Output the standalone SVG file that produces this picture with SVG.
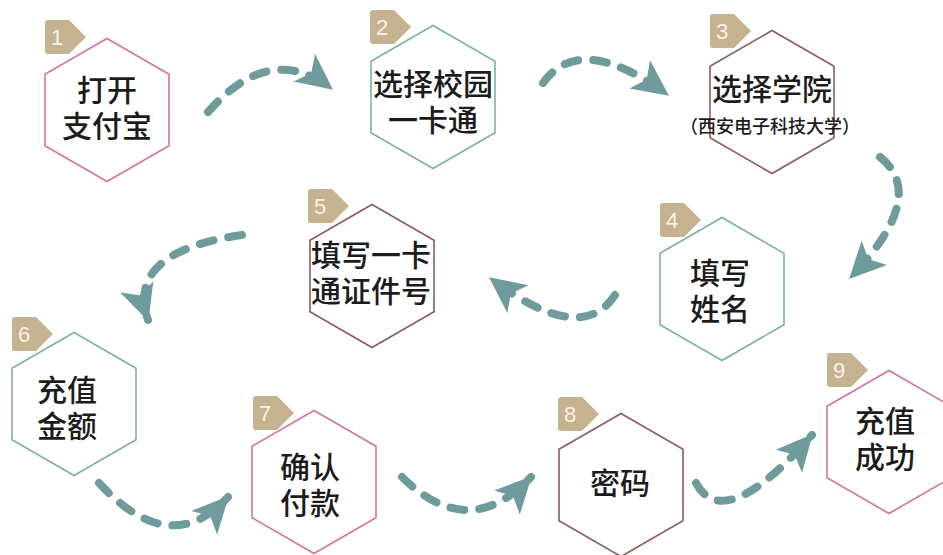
<svg xmlns="http://www.w3.org/2000/svg" xmlns:xlink="http://www.w3.org/1999/xlink" width="943" height="555" viewBox="0 0 943 555">
<style>
.hex{fill:#fff;stroke-width:1.6}
.pink{stroke:#d4739f}
.green{stroke:#7ab59c}
.brown{stroke:#8c5c5e}
.badge{fill:#c5b38f}
.num{fill:#f8f2e6;font-family:"Liberation Sans",sans-serif;font-size:22px;text-anchor:middle}
.lbl{font-family:"Liberation Sans","Noto Sans CJK SC",sans-serif;font-size:30px;font-weight:500;fill:#1c1c1c;text-anchor:middle}
.sub{font-family:"Liberation Sans","Noto Sans CJK SC",sans-serif;font-size:18px;font-weight:500;fill:#1c1c1c;text-anchor:middle}
.conn{fill:none;stroke:#6f9b9d;stroke-width:8;stroke-linecap:round;stroke-dasharray:14 15}
</style>
<defs>
<polygon id="hx" points="0,-71.5 62,-35.75 62,35.75 0,71.5 -62,35.75 -62,-35.75"/>
<path id="bd" d="M3,0 H24 L41,17 L24,34 H3 Q0,34 0,31 V3 Q0,0 3,0 Z"/>
<marker id="ah" viewBox="0 0 32 32" markerUnits="userSpaceOnUse" markerWidth="40" markerHeight="40" refX="30" refY="16" orient="auto">
<path d="M2,2 L31,16 L2,30 L9,16 Z" fill="#6f9b9d"/>
</marker>
</defs>
<rect width="943" height="555" fill="#fff"/>
<g id="connectors">
<path class="conn" marker-end="url(#ah)" d="M208,112 Q270,41 332,89"/>
<path class="conn" marker-end="url(#ah)" d="M543,83 Q580,31 668,95"/>
<path class="conn" marker-end="url(#ah)" d="M880,157 Q929,196 850,278"/>
<path class="conn" marker-end="url(#ah)" d="M615,295 Q581,347 490,278"/>
<path class="conn" marker-end="url(#ah)" d="M242,235 Q125,252 148,320"/>
<path class="conn" marker-end="url(#ah)" d="M99,483 Q170,560 228,497"/>
<path class="conn" marker-end="url(#ah)" d="M402,477 Q469,543 531,477"/>
<path class="conn" marker-end="url(#ah)" d="M696,483 Q724,535 812,435"/>
</g>
<g id="node1">
<use href="#hx" class="hex pink" transform="translate(107,110)"/>
<g transform="translate(45,20)"><use href="#bd" class="badge"/><text class="num" x="12" y="25">1</text></g>
<text class="lbl" x="107" y="101">打开<tspan x="107" dy="36">支付宝</tspan></text>
</g>
<g id="node2">
<use href="#hx" class="hex green" transform="translate(433,97)"/>
<g transform="translate(370,10)"><use href="#bd" class="badge"/><text class="num" x="12" y="25">2</text></g>
<text class="lbl" x="433" y="95">选择校园<tspan x="433" dy="36">一卡通</tspan></text>
</g>
<g id="node3">
<use href="#hx" class="hex brown" transform="translate(772,102)"/>
<g transform="translate(710,14)"><use href="#bd" class="badge"/><text class="num" x="12" y="25">3</text></g>
<text class="lbl" x="772" y="100">选择学院<tspan class="sub" x="770" dy="33">（西安电子科技大学）</tspan></text>
</g>
<g id="node4">
<use href="#hx" class="hex green" transform="translate(722,289)"/>
<g transform="translate(660,203)"><use href="#bd" class="badge"/><text class="num" x="12" y="25">4</text></g>
<text class="lbl" x="720" y="284">填写<tspan x="720" dy="36">姓名</tspan></text>
</g>
<g id="node5">
<use href="#hx" class="hex brown" transform="translate(372,276)"/>
<g transform="translate(308,189)"><use href="#bd" class="badge"/><text class="num" x="12" y="25">5</text></g>
<text class="lbl" x="371" y="266">填写一卡<tspan x="371" dy="36">通证件号</tspan></text>
</g>
<g id="node6">
<use href="#hx" class="hex green" transform="translate(74,404)"/>
<g transform="translate(12,317)"><use href="#bd" class="badge"/><text class="num" x="12" y="25">6</text></g>
<text class="lbl" x="67" y="401">充值<tspan x="67" dy="36">金额</tspan></text>
</g>
<g id="node7">
<use href="#hx" class="hex pink" transform="translate(314,482)"/>
<g transform="translate(253,396)"><use href="#bd" class="badge"/><text class="num" x="12" y="25">7</text></g>
<text class="lbl" x="310" y="478">确认<tspan x="310" dy="36">付款</tspan></text>
</g>
<g id="node8">
<use href="#hx" class="hex brown" transform="translate(621,485)"/>
<g transform="translate(558,397)"><use href="#bd" class="badge"/><text class="num" x="12" y="25">8</text></g>
<text class="lbl" x="620" y="494">密码</text>
</g>
<g id="node9">
<use href="#hx" class="hex pink" transform="translate(889,442)"/>
<g transform="translate(827,353)"><use href="#bd" class="badge"/><text class="num" x="12" y="25">9</text></g>
<text class="lbl" x="885" y="432">充值<tspan x="885" dy="36">成功</tspan></text>
</g>
</svg>
